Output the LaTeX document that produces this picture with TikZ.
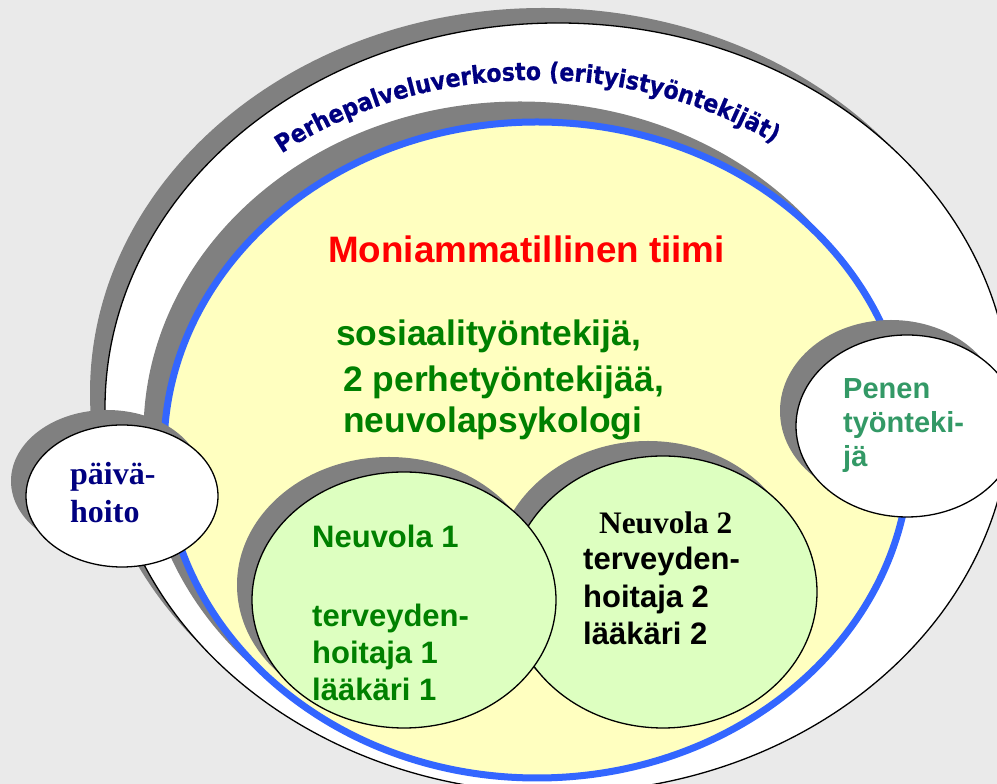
\documentclass[tikz,border=0pt]{standalone}
\usepackage{fontspec}
\usetikzlibrary{decorations.text}
\setmainfont{Liberation Sans}
\newfontfamily\lsans{Liberation Sans}
\newfontfamily\lserif{Liberation Serif}
\newfontfamily\dejavb{DejaVu Sans Bold}[FakeStretch=0.9,FakeBold=0.6]
\definecolor{bgc}{RGB}{234,234,234}
\definecolor{shadowc}{RGB}{128,128,128}
\definecolor{yellowc}{RGB}{255,255,192}
\definecolor{greenfill}{RGB}{221,255,192}
\definecolor{bluec}{RGB}{51,102,255}
\definecolor{navyc}{RGB}{0,0,128}
\definecolor{tealc}{RGB}{51,153,102}
\definecolor{greent}{RGB}{0,128,0}
\definecolor{redt}{RGB}{255,0,0}
\begin{document}
\begin{tikzpicture}[x=1pt,y=1pt,
  shade/.style={fill=shadowc},
  bubble/.style={draw=black,line width=1.3pt},
  txt/.style={inner sep=0pt,anchor=base west},
  redsans/.style={txt,font=\lsans\bfseries\fontsize{36.8pt}{40pt}\selectfont},
  bigsans/.style={txt,font=\lsans\bfseries\fontsize{35.4pt}{40pt}\selectfont},
  midsans/.style={txt,font=\lsans\bfseries\fontsize{31pt}{36pt}\selectfont},
  midserif/.style={txt,font=\lserif\bfseries\fontsize{31.3pt}{36pt}\selectfont},
  pensans/.style={txt,font=\lsans\bfseries\fontsize{29pt}{34pt}\selectfont},
  daysrf/.style={txt,font=\lserif\bfseries\fontsize{32pt}{38pt}\selectfont,text=navyc}]
\useasboundingbox (0,0) rectangle (997,784);
\fill[bgc] (0,0) rectangle (997,784);
\begin{scope}
\clip (0,0) rectangle (997,784);
% outer network ellipse
\fill[shade] (543,391) ellipse [x radius=453, y radius=385];
\filldraw[bubble,fill=white] (558,376) ellipse [x radius=453, y radius=385];
% curved title
\path[decorate, decoration={text along path, text format delimiters={|}{|},
  text={|\dejavb\fontsize{24.6pt}{24.6pt}\selectfont|Perhepalveluverkosto (erityistyöntekijät)},
  text color=navyc}]
  ([shift={(536,374)}]129:404 and 330) arc[start angle=129, end angle=35, x radius=404, y radius=330];
% team ellipse
\filldraw[shade,draw=shadowc,line width=7pt] (520,351) ellipse [x radius=373, y radius=328];
\filldraw[fill=yellowc,draw=bluec,line width=7pt] (537,334) ellipse [x radius=373, y radius=328];
% paivahoito
\fill[shade] (107,303) ellipse [x radius=96, y radius=71];
\filldraw[bubble,fill=white] (122,288) ellipse [x radius=96, y radius=71];
% Penen
\fill[shade] (891,373) ellipse [x radius=111, y radius=91];
\filldraw[bubble,fill=white] (907,358) ellipse [x radius=111, y radius=91];
% Neuvola 2
\fill[shade] (648,207) ellipse [x radius=154, y radius=136];
\filldraw[bubble,fill=greenfill] (663,192) ellipse [x radius=154, y radius=136];
% Neuvola 1
\fill[shade] (389,199) ellipse [x radius=152, y radius=128];
\filldraw[bubble,fill=greenfill] (404,184) ellipse [x radius=152, y radius=128];
\end{scope}
% texts
\node[redsans,text=redt] (mt) at (328,521) {Moniammatillinen tiimi};
\node[bigsans,text=greent] (s1) at (336,438) {sosiaalityöntekijä,};
\node[bigsans,text=greent] (s2) at (343,392) {2 perhetyöntekijää,};
\node[bigsans,text=greent] (s3) at (343,351) {neuvolapsykologi};
\node[daysrf] (p1) at (70,299) {päivä-};
\node[daysrf] (p2) at (70,261) {hoito};
\node[pensans,text=tealc] (e1) at (843,385) {Penen};
\node[pensans,text=tealc] (e2) at (843,351) {työnteki-};
\node[pensans,text=tealc] (e3) at (843,317) {jä};
\node[midsans,text=greent] (n1a) at (312,236) {Neuvola 1};
\node[midsans,text=greent] (n1b) at (312,157) {terveyden-};
\node[midsans,text=greent] (n1c) at (312,120) {hoitaja 1};
\node[midsans,text=greent] (n1d) at (312,83) {lääkäri 1};
\node[midserif,text=black] (n2a) at (599,250) {Neuvola 2};
\node[midsans,text=black] (n2b) at (583,214) {terveyden-};
\node[midsans,text=black] (n2c) at (583,176) {hoitaja 2};
\node[midsans,text=black] (n2d) at (583,139) {lääkäri 2};
\end{tikzpicture}
\end{document}
